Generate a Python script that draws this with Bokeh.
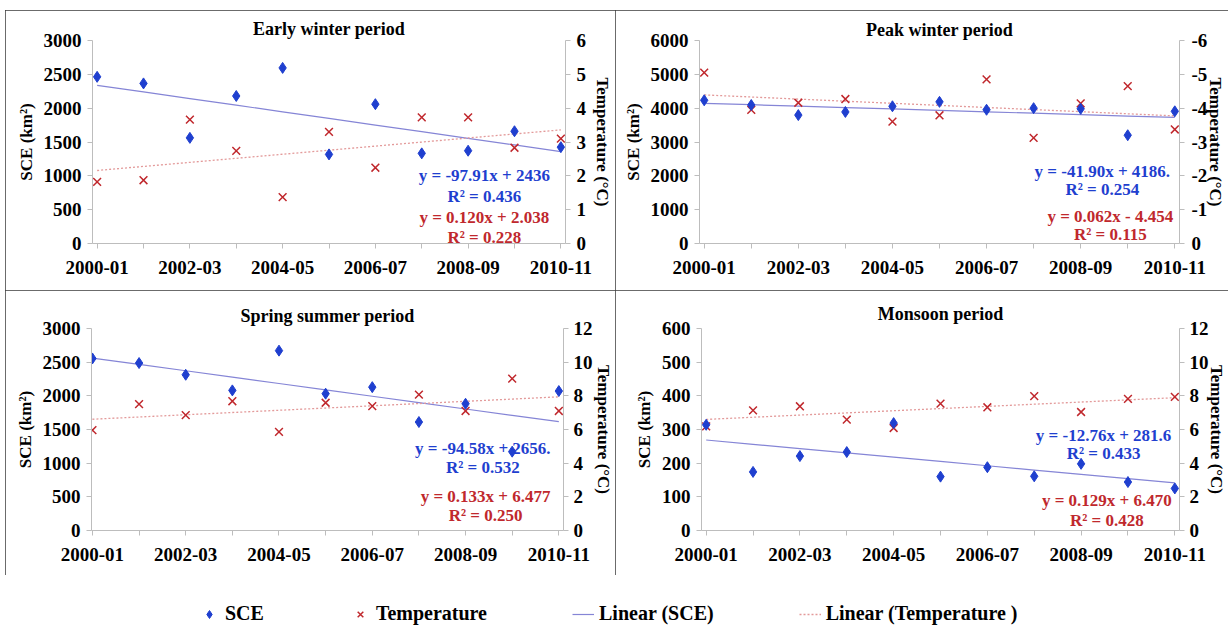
import numpy as np
from bokeh.plotting import figure
from bokeh.layouts import column, row
from bokeh.models import (Range1d, LinearAxis, FixedTicker, Label, Legend,
                          LegendItem, Spacer)
from bokeh.embed import file_html
from bokeh.resources import INLINE

# ---------------------------------------------------------------- data
years = ["2000-01", "2001-02", "2002-03", "2003-04", "2004-05", "2005-06",
         "2006-07", "2007-08", "2008-09", "2009-10", "2010-11"]

early_sce = [2463, 2366, 1561, 2180, 2595, 1317, 2059, 1332, 1371, 1659, 1424]
early_temp = [1.82, 1.87, 3.66, 2.74, 1.37, 3.30, 2.24, 3.73, 3.73, 2.83, 3.10]

peak_sce = [4233, 4093, 3795, 3888, 4056, 4186, 3953, 4000, 3981, 3200, 3907]
peak_temp = [-5.05, -3.95, -4.16, -4.27, -3.60, -3.79, -4.85, -3.12, -4.14, -4.65, -3.37]

spring_sce = [2555, 2487, 2313, 2081, 2671, 2032, 2129, 1611, 1882, 1171, 2071]
spring_temp = [5.96, 7.51, 6.85, 7.68, 5.86, 7.59, 7.39, 8.07, 7.10, 9.02, 7.10]

monsoon_sce = [314, 174, 221, 233, 319, 160, 188, 161, 198, 144, 125]
monsoon_temp = [6.19, 7.14, 7.38, 6.59, 6.09, 7.54, 7.32, 7.98, 7.04, 7.82, 7.94]

# linear trends (slope, intercept) against season number 1..11
early_sce_fit = (-97.91, 2436.0)
early_temp_fit = (0.120, 2.038)
peak_sce_fit = (-41.90, 4186.0)
peak_temp_fit = (0.062, -4.454)
spring_sce_fit = (-94.58, 2656.0)
spring_temp_fit = (0.133, 6.477)
monsoon_sce_fit = (-12.76, 281.6)
monsoon_temp_fit = (0.129, 6.470)

early_eq = ["y = -97.91x + 2436", "R² = 0.436", "y = 0.120x + 2.038", "R² = 0.228"]
peak_eq = ["y = -41.90x + 4186.", "R² = 0.254", "y = 0.062x - 4.454", "R² = 0.115"]
spring_eq = ["y = -94.58x + 2656.", "R² = 0.532", "y = 0.133x + 6.477", "R² = 0.250"]
monsoon_eq = ["y = -12.76x + 281.6", "R² = 0.433", "y = 0.129x + 6.470", "R² = 0.428"]

legend_labels = ["SCE", "Temperature", "Linear (SCE)", "Linear (Temperature )"]

# ---------------------------------------------------------------- style
FONT = "Liberation Serif"
BLUE = "#1f3fcf"
RED = "#c0282d"
SCE_LINE = "#8585d6"
TEMP_LINE = "#e39a9a"
AXIS_GREY = "#bdbdbd"

season_no = np.arange(1, len(years) + 1)
xpos = season_no - 1


def style_axis(ax):
    ax.axis_line_color = AXIS_GREY
    ax.major_tick_line_color = AXIS_GREY
    ax.minor_tick_line_color = None
    ax.major_tick_out = 5
    ax.major_tick_in = 0
    ax.major_label_text_font = FONT
    ax.major_label_text_font_style = "bold"
    ax.major_label_text_font_size = "19px"
    ax.major_label_text_color = "black"
    ax.axis_label_text_font = FONT
    ax.axis_label_text_font_style = "bold"
    ax.axis_label_text_font_size = "17px"
    ax.axis_label_text_color = "black"


def make_panel(title, sce, temp, sce_fit, temp_fit, eq, sce_max, sce_step,
               temp_range, temp_ticks, eq_x, eq_y, width, height, borders,
               x_start, right_std, title_std):
    left, right, top, bottom = borders
    p = figure(width=width, height=height, output_backend="svg",
               toolbar_location=None,
               x_range=Range1d(x_start, 10.1), y_range=Range1d(0, sce_max),
               min_border_left=left, min_border_right=right,
               min_border_top=top, min_border_bottom=bottom)
    p.extra_y_ranges = {"temp": Range1d(*temp_range)}
    p.xgrid.visible = False
    p.ygrid.visible = False
    p.outline_line_color = None
    p.styles = {"outline": "1px solid #3a3a3a", "outline-offset": "-1px"}

    p.title.text = title
    p.title.align = "center"
    p.title.text_font = FONT
    p.title.text_font_size = "18px"
    p.title.text_font_style = "bold"
    p.title.text_color = "black"
    p.title.standoff = title_std

    xa = p.xaxis[0]
    style_axis(xa)
    xa.ticker = FixedTicker(ticks=list(range(len(years))))
    xa.major_label_overrides = {i: (years[i] if i % 2 == 0 else "")
                                for i in range(len(years))}
    xa.major_label_standoff = 12

    ya = p.yaxis[0]
    style_axis(ya)
    ya.ticker = FixedTicker(ticks=list(range(0, sce_max + 1, sce_step)))
    ya.axis_label = "SCE (km²)"
    ya.major_label_standoff = 6

    ra = LinearAxis(y_range_name="temp", ticker=FixedTicker(ticks=temp_ticks),
                    axis_label="Temperature (°C)")
    style_axis(ra)
    ra.major_label_overrides = {t: str(t) for t in temp_ticks}
    ra.major_label_standoff = right_std[0]
    ra.axis_label_standoff = right_std[1]
    p.add_layout(ra, "right")

    # trend lines
    p.line(xpos, sce_fit[0] * season_no + sce_fit[1],
           line_color=SCE_LINE, line_width=1.2)
    p.line(xpos, temp_fit[0] * season_no + temp_fit[1], y_range_name="temp",
           line_color=TEMP_LINE, line_width=1.3, line_dash="2 2")

    # observations
    p.scatter(xpos, temp, marker="x", size=11, line_color=RED, line_width=1.5,
              y_range_name="temp")
    p.scatter(xpos, sce, marker="diamond", size=11, fill_color=BLUE,
              line_color=BLUE)

    colors = [BLUE, BLUE, RED, RED]
    for txt, xx, yy, c in zip(eq, eq_x, eq_y, colors):
        p.add_layout(Label(x=xx, y=yy, text=txt, text_align="center",
                           text_baseline="middle", text_font=FONT,
                           text_font_style="bold", text_font_size="17px",
                           text_color=c))
    return p


p1 = make_panel("Early winter period", early_sce, early_temp, early_sce_fit,
                early_temp_fit, early_eq, 3000, 500, (0, 6), list(range(0, 7)),
                [8.35, 8.35, 8.35, 8.35], [1005, 695, 384, 89],
                610, 280, (87, 47, 30, 47), -0.1, (6, 4), 4)
p2 = make_panel("Peak winter period", peak_sce, peak_temp, peak_sce_fit,
                peak_temp_fit, peak_eq, 6000, 1000, (0, -6), list(range(-6, 1)),
                [8.46, 8.46, 8.63, 8.63], [2121, 1591, 809, 279],
                613, 280, (84, 44, 23, 42), -0.1, (7, -4), 1)
p3 = make_panel("Spring summer period", spring_sce, spring_temp, spring_sce_fit,
                spring_temp_fit, spring_eq, 3000, 500, (0, 12), list(range(0, 13, 2)),
                [8.37, 8.37, 8.43, 8.43], [1217, 942, 507, 217],
                610, 285, (86, 47, 33, 45), -0.02, (5, -2), 5)
p4 = make_panel("Monsoon period", monsoon_sce, monsoon_temp, monsoon_sce_fit,
                monsoon_temp_fit, monsoon_eq, 600, 100, (0, 12), list(range(0, 13, 2)),
                [8.48, 8.48, 8.55, 8.55], [282, 229, 89, 30],
                613, 285, (86, 44, 38, 45), -0.1, (5, -5), 9)

# ---------------------------------------------------------------- legend strip
# the key glyphs sit on a placeholder point outside the strip's visible range
leg = figure(width=1230, height=50, output_backend="svg", toolbar_location=None,
             x_range=Range1d(0, 1), y_range=Range1d(0, 1),
             x_axis_type=None, y_axis_type=None, min_border=0)
leg.outline_line_color = None
off = dict(x=[-5], y=[-5])
r_sce = leg.scatter(marker="diamond", size=11, fill_color=BLUE, line_color=BLUE, **off)
r_tmp = leg.scatter(marker="x", size=11, line_color=RED, line_width=1.5, **off)
r_sl = leg.line(line_color=SCE_LINE, line_width=1.2, **off)
r_tl = leg.line(line_color=TEMP_LINE, line_width=1.3, line_dash="2 2", **off)
legend = Legend(items=[LegendItem(label=lab, renderers=[r])
                       for lab, r in zip(legend_labels, [r_sce, r_tmp, r_sl, r_tl])],
                orientation="horizontal", location=(198, 0), spacing=85,
                glyph_width=22, glyph_height=20, label_standoff=5,
                padding=0, margin=0, border_line_color=None,
                background_fill_alpha=0, label_text_font=FONT,
                label_text_font_style="bold", label_text_font_size="20px",
                label_text_color="black")
leg.add_layout(legend)

layout = column(Spacer(width=1230, height=10),
                row(Spacer(width=5, height=280), p1, p2),
                row(Spacer(width=5, height=285), p3, p4),
                leg)

with open("out.html", "w") as f:
    f.write(file_html(layout, INLINE))
